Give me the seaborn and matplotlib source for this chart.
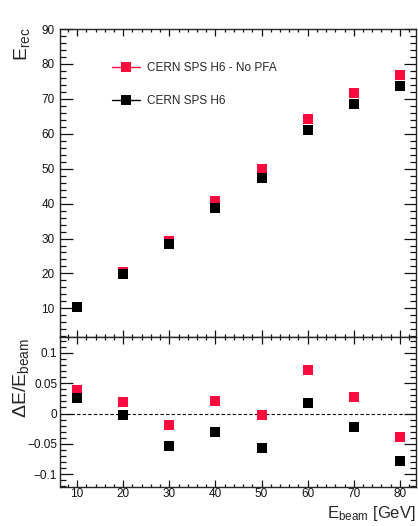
import numpy as np
import pandas as pd
import matplotlib
matplotlib.use("Agg")
import matplotlib.pyplot as plt
import seaborn as sns
from matplotlib.lines import Line2D
from matplotlib.ticker import MultipleLocator

# data
e_beam = [10, 20, 30, 40, 50, 60, 70, 80]
e_rec_nopfa = [10.4, 20.4, 29.4, 40.8, 49.9, 64.2, 71.8, 76.8]
e_rec_pfa = [10.3, 19.9, 28.4, 38.8, 47.2, 61.1, 68.4, 73.7]
dev_nopfa = [0.038, 0.019, -0.019, 0.020, -0.003, 0.071, 0.027, -0.039]
dev_pfa = [0.026, -0.003, -0.053, -0.031, -0.056, 0.018, -0.023, -0.079]
labels = ["CERN SPS H6 - No PFA", "CERN SPS H6"]
colors = ["#ff0a3c", "#000000"]

sns.set_style("ticks")
plt.rcParams["font.family"] = ["Liberation Sans", "DejaVu Sans"]
plt.rcParams["mathtext.fontset"] = "custom"
plt.rcParams["mathtext.rm"] = "Liberation Sans"
plt.rcParams["mathtext.it"] = "Liberation Sans"
plt.rcParams["mathtext.default"] = "regular"
plt.rcParams["axes.unicode_minus"] = True

df = pd.DataFrame({
    "ebeam": e_beam * 2,
    "erec": e_rec_nopfa + e_rec_pfa,
    "dev": dev_nopfa + dev_pfa,
    "set": [labels[0]] * len(e_beam) + [labels[1]] * len(e_beam),
})
pal = dict(zip(labels, colors))

fig = plt.figure(figsize=(4.18, 5.26), dpi=100)
W, H = 418, 526
ax1 = fig.add_axes([60 / W, 1 - 337 / H, 356 / W, 308 / H])
ax2 = fig.add_axes([60 / W, 1 - 487 / H, 356 / W, 150 / H])

msize = 7.2
for ax, col in [(ax1, "erec"), (ax2, "dev")]:
    sns.scatterplot(data=df, x="ebeam", y=col, hue="set", palette=pal,
                    marker="s", s=msize ** 2, linewidth=0, legend=False, ax=ax)
    ax.set_xlim(6.3, 83.5)
    ax.set_xlabel("")
    ax.set_ylabel("")
    ax.xaxis.set_major_locator(MultipleLocator(10))
    ax.xaxis.set_minor_locator(MultipleLocator(2))
    for s in ax.spines.values():
        s.set_visible(True)
        s.set_linewidth(1.0)
    ax.tick_params(which="both", direction="in", top=True, right=True,
                   width=0.9, labelsize=8.5, colors="#111111")
    ax.tick_params(axis="x", which="major", length=5)
    ax.tick_params(axis="x", which="minor", length=2.5)
    ax.tick_params(axis="y", which="major", length=9)
    ax.tick_params(axis="y", which="minor", length=4.5)

ax1.set_ylim(1.8, 90)
ax1.yaxis.set_major_locator(MultipleLocator(10))
ax1.yaxis.set_minor_locator(MultipleLocator(2))
ax1.set_yticks([10, 20, 30, 40, 50, 60, 70, 80, 90])
ax1.tick_params(axis="x", labelbottom=False)
ax1.tick_params(axis="y", pad=4)

ax2.set_ylim(-0.121, 0.126)
ax2.set_yticks([-0.1, -0.05, 0, 0.05, 0.1])
ax2.set_yticklabels(["\u22120.1", "\u22120.05", "0", "0.05", "0.1"])
ax2.yaxis.set_minor_locator(MultipleLocator(0.01))
ax2.tick_params(axis="y", pad=2)
ax2.tick_params(axis="x", pad=1)
ax2.axhline(0, color="black", lw=0.8, ls=(0, (3, 2)), zorder=0)

handles = [Line2D([], [], color=c, marker="s", markersize=msize, lw=1.0,
                  markeredgewidth=0) for c in colors]
ax1.legend(handles, labels, loc="upper left", bbox_to_anchor=(0.146, 0.894),
           frameon=False, fontsize=8.5, handlelength=2.4, handletextpad=0.6,
           labelspacing=1.8, borderpad=0, borderaxespad=0)

fig.text(22 / W, 1 - 27 / H, r"$E_{rec}$", rotation=90, ha="center", va="top",
         fontsize=14)
fig.text(21 / W, 1 - 338 / H, r"$\Delta E/E_{beam}$", rotation=90, ha="center",
         va="top", fontsize=14)
fig.text(416 / W, 1 - 518 / H, r"$E_{beam}$ [GeV]", ha="right", va="baseline",
         fontsize=12)

fig.savefig("out.png", dpi=100)
